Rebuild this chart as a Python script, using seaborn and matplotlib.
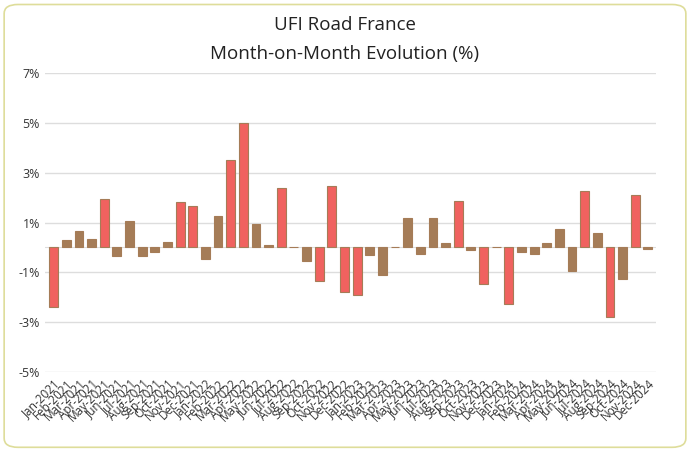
import matplotlib
matplotlib.use("Agg")
import matplotlib.pyplot as plt
import seaborn as sns
import pandas as pd
from matplotlib.patches import FancyBboxPatch

months = [f"{m}-{y}" for y in (2021, 2022, 2023, 2024) for m in
          ["Jan","Feb","Mar","Apr","May","Jun","Jul","Aug","Sep","Oct","Nov","Dec"]]
values = [-2.39, 0.28, 0.65, 0.35, 1.93, -0.35, 1.05, -0.35, -0.2, 0.2, 1.83, 1.65,
          -0.48, 1.27, 3.52, 4.99, 0.95, 0.1, 2.4, 0.0, -0.55, -1.33, 2.45, -1.8,
          -1.89, -0.32, -1.12, 0.02, 1.2, -0.25, 1.2, 0.18, 1.85, -0.12, -1.45, 0.0,
          -2.25, -0.17, -0.25, 0.18, 0.75, -0.95, 2.27, 0.56, -2.8, -1.27, 2.11, -0.05]
yticks = [7, 5, 3, 1, -1, -3, -5]

RED, BROWN = "#f0625f", "#a57c57"
df = pd.DataFrame({"month": months, "value": values})
colors = [RED if abs(v) > 1.3 else BROWN for v in values]

plt.rcParams["font.family"] = "Open Sans"
fig = plt.figure(figsize=(6.9, 4.5), dpi=100)
fig.patches.append(FancyBboxPatch((0.006, 0.006), 0.988, 0.984, boxstyle="round,pad=0,rounding_size=0.02",
                                  transform=fig.transFigure, fill=False, ec="#dedd9a", lw=1.2))
ax = fig.add_axes([0.065, 0.173, 0.885, 0.665])
sns.barplot(data=df, x="month", y="value", hue="month", palette=colors, legend=False,
            width=0.7, ax=ax, saturation=1, edgecolor=BROWN, linewidth=0.8)
ax.set_ylim(-5, 7)
ax.set_yticks(yticks)
ax.set_yticklabels([f"{t}%" for t in yticks], fontsize=9, color="#333333")
ax.set_xticks(range(len(months)))
ax.set_xticklabels(months, rotation=45, ha="right", rotation_mode="anchor", fontsize=8.5, color="#333333")
ax.grid(axis="y", color="#dddddd", lw=1)
ax.set_axisbelow(True)
ax.axhline(0, color="#dddddd", lw=0.8, zorder=0)
for s in ax.spines.values():
    s.set_visible(False)
ax.tick_params(length=0)
ax.set_xlabel(""); ax.set_ylabel("")
ax.set_xlim(-0.7, 47.6)
fig.text(0.5, 0.945, "UFI Road France", ha="center", va="center", fontsize=13.5, color="#222222")
fig.text(0.5, 0.88, "Month-on-Month Evolution (%)", ha="center", va="center", fontsize=13.5, color="#222222")
fig.savefig("out.png", dpi=100)
